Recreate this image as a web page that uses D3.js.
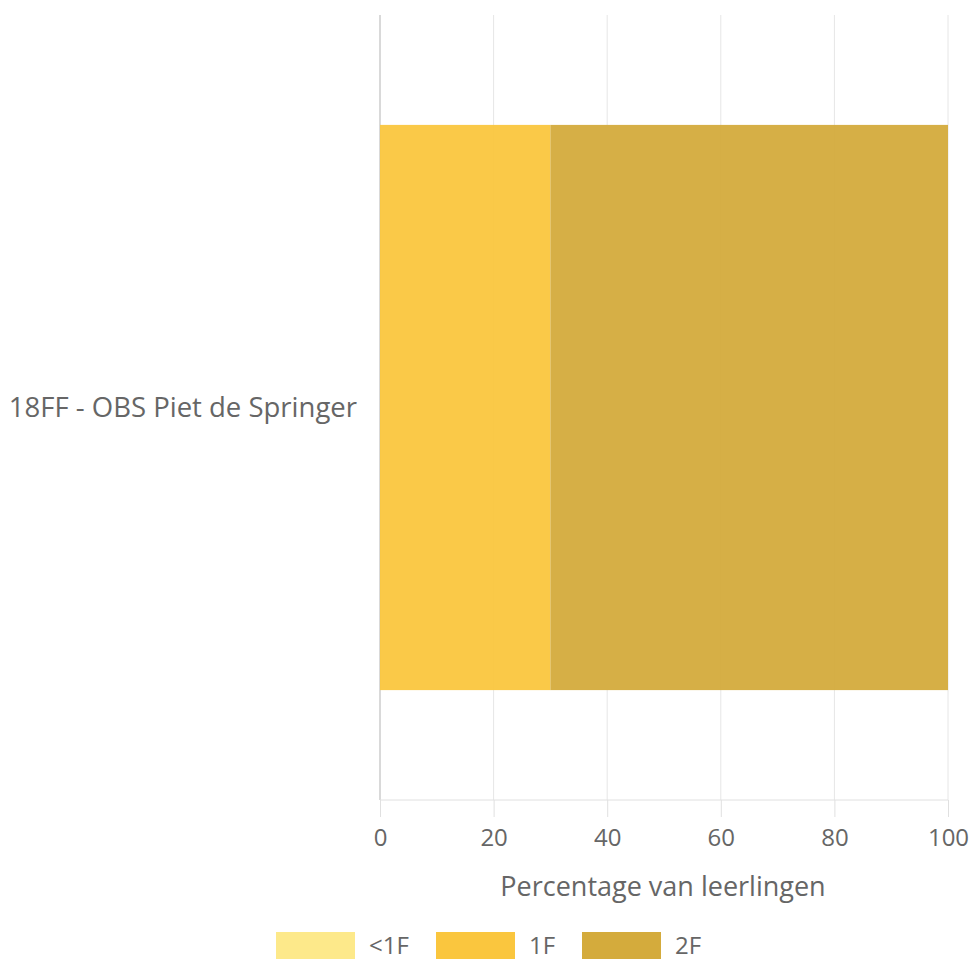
<!DOCTYPE html>
<html><head><meta charset="utf-8">
<script src="https://cdn.jsdelivr.net/npm/d3@7"></script>
<style>body{margin:0;background:#fff;} svg{display:block;} text{font-family:"Open Sans",Lato,sans-serif;fill:#666;}</style>
</head><body>
<svg id="c" width="974" height="961"></svg>
<script>
const categories = ["18FF - OBS Piet de Springer"];
const seriesNames = ["<1F", "1F", "2F"];
const seriesValues = {"<1F": [0], "1F": [30], "2F": [70]};
const seriesColors = ["#fde98a", "#fac63e", "#d4ab3c"];
const xTicks = [0, 20, 40, 60, 80, 100];
const xTitle = "Percentage van leerlingen";

const svg = d3.select("#c");
const m = {l: 380, r: 26, t: 15, b: 161};
const W = 974, H = 961;
const x = d3.scaleLinear().domain([0, 100]).range([m.l, W - m.r]);
const y = d3.scaleBand().domain(categories).range([m.t, H - m.b]).paddingInner(0.28).paddingOuter(0.14);

// grid
svg.append("g").selectAll("line").data(xTicks).join("line")
  .attr("x1", d => x(d)).attr("x2", d => x(d)).attr("y1", m.t).attr("y2", H - m.b)
  .attr("stroke", d => d === 0 ? "#cccccc" : "#e6e6e6").attr("stroke-width", d => d === 0 ? 1.5 : 1);

// stacked bars
const table = categories.map((c, i) => { const o = {cat: c}; seriesNames.forEach(s => o[s] = seriesValues[s][i]); return o; });
const stack = d3.stack().keys(seriesNames)(table);
svg.append("g").selectAll("g").data(stack).join("g")
  .attr("fill", (d, i) => seriesColors[i]).attr("fill-opacity", 0.95)
  .selectAll("rect").data(d => d).join("rect")
  .attr("x", d => x(d[0])).attr("width", d => x(d[1]) - x(d[0]))
  .attr("y", d => y(d.data.cat)).attr("height", y.bandwidth());

// x axis
const xa = svg.append("g").attr("transform", `translate(0,${H - m.b})`)
  .call(d3.axisBottom(x).tickValues(xTicks).tickSize(17).tickPadding(12));
xa.select(".domain").attr("stroke", "#e0e0e0").attr("d", `M${x(0)},0H${x(100)}`);
xa.selectAll(".tick line").attr("stroke", "#e0e0e0");
xa.selectAll(".tick text").attr("font-size", 24).style("fill", "#666").attr("font-family", '"Open Sans",Lato,sans-serif');

svg.append("text").attr("x", (x(0) + x(100)) / 2 - 1).attr("y", 887).attr("dy", "0.35em").attr("text-anchor", "middle")
  .attr("font-size", 27).text(xTitle);

// y labels
svg.append("g").selectAll("text").data(categories).join("text")
  .attr("x", m.l - 23).attr("y", d => y(d) + y.bandwidth() / 2).attr("dy", "0.35em")
  .attr("text-anchor", "end").attr("font-size", 27.5).text(d => d);

// legend
const legX = [276, 436, 582];
const lg = svg.append("g").selectAll("g").data(seriesNames).join("g")
  .attr("transform", (d, i) => `translate(${legX[i]},932)`);
lg.append("rect").attr("width", 79).attr("height", 27).attr("fill", (d, i) => seriesColors[i]);
lg.append("text").attr("x", 93).attr("y", 14).attr("dy", "0.35em").attr("font-size", 24).text(d => d);
</script>
</body></html>
